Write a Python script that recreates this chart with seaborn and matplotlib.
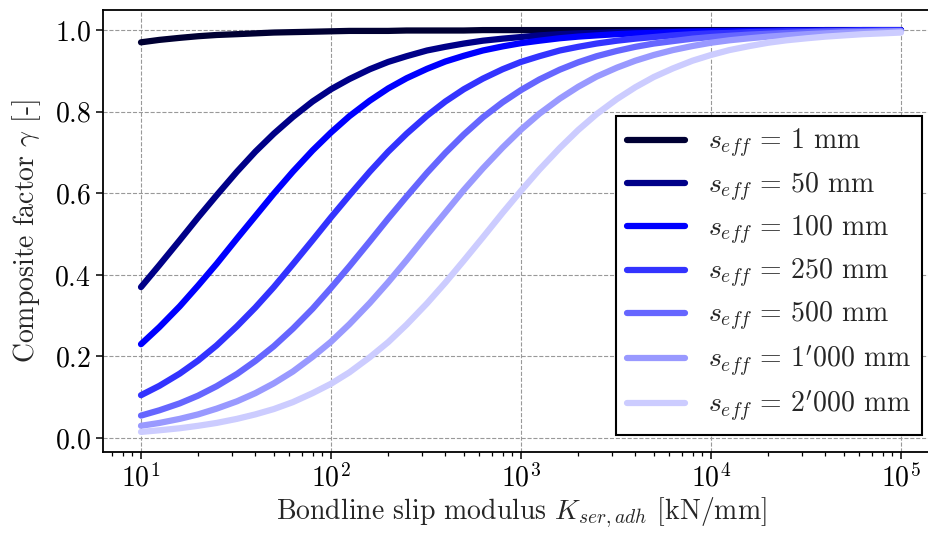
import numpy as np
import pandas as pd
import matplotlib
matplotlib.use("Agg")
import matplotlib.pyplot as plt
import seaborn as sns

# bondline slip modulus K_ser,adh [kN/mm]
k_ser = [10, 12.5, 16, 20, 25, 32, 40, 50, 63, 80,
         100, 125, 160, 200, 250, 320, 400, 500, 630, 800,
         1000, 1250, 1600, 2000, 2500, 3200, 4000, 5000, 6300, 8000,
         10000, 12500, 16000, 20000, 25000, 32000, 40000, 50000, 63000, 80000,
         100000]

# composite factor gamma
gamma_1 = [0.970, 0.976, 0.981, 0.985, 0.988, 0.990, 0.992, 0.994, 0.995, 0.996,
           0.997, 0.998, 0.998, 0.998, 0.999, 0.999, 0.999, 0.999, 1.0, 1.0,
           1.0, 1.0, 1.0, 1.0, 1.0, 1.0, 1.0, 1.0, 1.0, 1.0,
           1.0, 1.0, 1.0, 1.0, 1.0, 1.0, 1.0, 1.0, 1.0, 1.0,
           1.0]
gamma_50 = [0.370, 0.424, 0.485, 0.541, 0.595, 0.653, 0.702, 0.746, 0.787, 0.825,
            0.855, 0.880, 0.904, 0.922, 0.936, 0.950, 0.959, 0.967, 0.974, 0.979,
            0.983, 0.987, 0.990, 0.992, 0.993, 0.995, 0.996, 0.997, 0.997, 0.998,
            0.998, 0.999, 0.999, 0.999, 0.999, 0.999, 1.0, 1.0, 1.0, 1.0,
            1.0]
gamma_100 = [0.230, 0.272, 0.323, 0.374, 0.427, 0.489, 0.544, 0.599, 0.653, 0.705,
             0.749, 0.789, 0.827, 0.857, 0.882, 0.905, 0.923, 0.937, 0.950, 0.960,
             0.968, 0.974, 0.980, 0.984, 0.987, 0.990, 0.992, 0.993, 0.995, 0.996,
             0.997, 0.997, 0.998, 0.998, 0.999, 0.999, 0.999, 0.999, 1.0, 1.0,
             1.0]
gamma_250 = [0.105, 0.128, 0.158, 0.190, 0.227, 0.274, 0.320, 0.370, 0.426, 0.485,
             0.541, 0.595, 0.653, 0.702, 0.746, 0.790, 0.825, 0.855, 0.881, 0.904,
             0.922, 0.936, 0.950, 0.959, 0.967, 0.974, 0.979, 0.983, 0.987, 0.990,
             0.992, 0.993, 0.995, 0.996, 0.997, 0.997, 0.998, 0.998, 0.999, 0.999,
             0.999]
gamma_500 = [0.055, 0.068, 0.085, 0.104, 0.127, 0.157, 0.189, 0.225, 0.268, 0.317,
             0.368, 0.421, 0.482, 0.538, 0.592, 0.650, 0.699, 0.744, 0.786, 0.823,
             0.853, 0.879, 0.903, 0.921, 0.936, 0.949, 0.959, 0.967, 0.973, 0.979,
             0.983, 0.986, 0.989, 0.991, 0.993, 0.995, 0.996, 0.997, 0.997, 0.998,
             0.998]
gamma_1000 = [0.030, 0.037, 0.047, 0.058, 0.072, 0.090, 0.110, 0.134, 0.163, 0.199,
              0.236, 0.279, 0.331, 0.382, 0.436, 0.498, 0.553, 0.608, 0.661, 0.712,
              0.756, 0.795, 0.832, 0.861, 0.886, 0.908, 0.925, 0.939, 0.951, 0.961,
              0.969, 0.975, 0.980, 0.984, 0.987, 0.990, 0.992, 0.994, 0.995, 0.996,
              0.997]
gamma_2000 = [0.015, 0.019, 0.024, 0.030, 0.037, 0.047, 0.058, 0.071, 0.088, 0.110,
              0.133, 0.161, 0.198, 0.235, 0.278, 0.330, 0.381, 0.435, 0.492, 0.552,
              0.606, 0.658, 0.711, 0.755, 0.794, 0.831, 0.860, 0.885, 0.906, 0.925,
              0.939, 0.951, 0.961, 0.969, 0.975, 0.980, 0.984, 0.987, 0.990, 0.992,
              0.994]

labels = [r"$s_{eff}\,=\,1$ mm", r"$s_{eff}\,=\,50$ mm", r"$s_{eff}\,=\,100$ mm",
          r"$s_{eff}\,=\,250$ mm", r"$s_{eff}\,=\,500$ mm", r"$s_{eff}\,=\,1'000$ mm",
          r"$s_{eff}\,=\,2'000$ mm"]
series = [gamma_1, gamma_50, gamma_100, gamma_250, gamma_500, gamma_1000, gamma_2000]
colors = ["#000033", "#000088", "#0000ff", "#3333ff", "#6666ff", "#9999ff", "#ccccff"]

sns.set_theme(style="ticks")
plt.rcParams.update({
    "font.family": "serif",
    "font.serif": ["cmr10", "DejaVu Serif"],
    "mathtext.fontset": "cm",
    "axes.formatter.use_mathtext": True,
    "axes.unicode_minus": False,
    "font.size": 20,
    "axes.labelsize": 20,
    "xtick.labelsize": 20,
    "ytick.labelsize": 20,
    "legend.fontsize": 20,
    "axes.edgecolor": "black",
    "axes.linewidth": 1.3,
    "xtick.color": "black",
    "ytick.color": "black",
})

df = pd.DataFrame({"K": k_ser * len(series),
                   "gamma": np.concatenate(series),
                   "s": np.repeat(labels, len(k_ser))})

fig = plt.figure(figsize=(9.29, 5.33), dpi=100)
ax = fig.add_axes([103 / 929, 1 - 452 / 533, 836 / 929, 442 / 533])

sns.lineplot(data=df, x="K", y="gamma", hue="s", hue_order=labels,
             palette=colors, linewidth=4.5, ax=ax, legend=False)
ax.set_xscale("log")

ax.grid(True, which="major", color="#999999", linestyle="--", linewidth=0.8)
ax.set_xlabel(r"Bondline slip modulus $K_{ser,adh}$ [kN/mm]", labelpad=2)
ax.set_ylabel(r"Composite factor $\gamma$ [-]", labelpad=8)
ax.set_yticks([0.0, 0.2, 0.4, 0.6, 0.8, 1.0])
ax.tick_params(which="major", length=5, width=1.1)
ax.tick_params(which="minor", length=3, width=0.9)

handles = [plt.Line2D([], [], color=c, linewidth=4.5) for c in colors]
leg = ax.legend(handles, labels, loc="lower right",
                bbox_to_anchor=(922 / 929, 1 - 435 / 533),
                bbox_transform=fig.transFigure, borderaxespad=0,
                fancybox=False, framealpha=1, edgecolor="black",
                handlelength=2.1, handletextpad=0.8, labelspacing=0.36)
leg.get_frame().set_linewidth(1.5)

fig.savefig("out.png", dpi=100)
